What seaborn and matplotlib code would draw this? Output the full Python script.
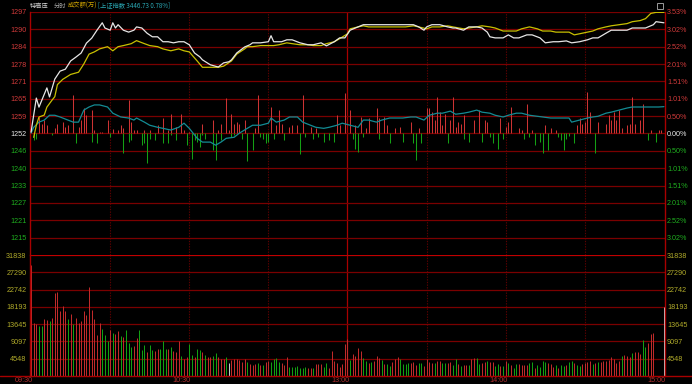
import matplotlib
matplotlib.use("Agg")
import matplotlib.pyplot as plt
from matplotlib.patches import Rectangle
from matplotlib.lines import Line2D
import numpy as np
import pandas as pd
import seaborn as sns

# ---------------- data ----------------
header_name = "特高压"
header_mode = "分时"
header_unit = "成交额(万)"
header_index = "[上证指数 3446.73 0.78%]"

prev_close = 1252.8
pct_limit = 3.53

price_tick_labels = ["1297", "1290", "1284", "1278", "1271", "1265", "1259",
                     "1252", "1246", "1240", "1233", "1227", "1221", "1215"]
pct_tick_values = [3.53, 3.026, 2.52, 2.017, 1.513, 1.009, 0.504,
                   0.0, -0.504, -1.009, -1.513, -2.017, -2.52, -3.026]
pct_tick_labels = ["3.53%", "3.02%", "2.52%", "2.01%", "1.51%", "1.01%", "0.50%",
                   "0.00%", "0.50%", "1.01%", "1.51%", "2.01%", "2.52%", "3.02%"]
vol_tick_values = [31838, 27290, 22742, 18193, 13645, 9097, 4548]
vol_tick_labels = ["31838", "27290", "22742", "18193", "13645", "9097", "4548"]
time_label_minutes = [0, 60, 120, 180, 240]
time_labels = ["09:30", "10:30", "13:00", "14:00", "15:00"]

# white price line (minute index from 09:30, price)
price_min = [0, 2, 3, 6, 7, 9, 11, 13, 15, 17, 19, 21, 23, 25, 27, 28, 30, 31, 32, 33,
             35, 37, 39, 40, 42, 44, 46, 48, 50, 52, 54, 56, 58, 60, 62, 64, 65, 68, 71, 73,
             75, 76, 78, 81, 83, 84, 87, 90, 91, 92, 95, 97, 99, 102, 105, 107, 110, 112, 115, 117,
             119, 121, 123, 126, 130, 135, 140, 145, 147, 149, 150, 152, 155, 158, 160, 161, 164, 166, 169, 171,
             173, 174, 176, 179, 181, 183, 185, 188, 190, 193, 195, 198, 200, 203, 205, 208, 211, 213, 215, 218,
             220, 223, 226, 228, 231, 233, 236, 237, 240]
price_val = [1253.3, 1265.7, 1262.4, 1269.4, 1266.1, 1272.6, 1275.5, 1276.2, 1279.2, 1280.6,
             1282.1, 1285.7, 1287.5, 1290.4, 1293.1, 1291.2, 1290.4, 1293.1, 1291.2, 1292.4,
             1290.4, 1289.7, 1290.4, 1291.6, 1291.2, 1289.3, 1288.0, 1288.0, 1286.2, 1286.2,
             1285.8, 1286.2, 1286.2, 1285.1, 1282.1, 1280.7, 1279.6, 1277.8, 1277.0, 1278.5,
             1278.9, 1279.6, 1282.1, 1284.3, 1285.1, 1285.8, 1285.8, 1286.2, 1288.4, 1286.2,
             1286.2, 1286.9, 1286.9, 1285.8, 1285.1, 1285.1, 1285.8, 1284.7, 1286.2, 1287.6,
             1287.6, 1290.4, 1291.2, 1292.4, 1292.4, 1292.4, 1292.4, 1292.4, 1291.6, 1290.4,
             1291.6, 1292.4, 1292.4, 1291.6, 1291.2, 1291.2, 1290.4, 1291.6, 1291.6, 1291.2,
             1289.7, 1288.0, 1287.6, 1287.6, 1288.7, 1287.6, 1287.6, 1288.7, 1288.7, 1287.6,
             1285.8, 1286.2, 1286.2, 1286.5, 1285.8, 1286.2, 1286.9, 1287.6, 1287.6, 1289.3,
             1290.4, 1290.4, 1290.4, 1291.2, 1291.2, 1291.2, 1292.4, 1293.5, 1293.1]

# yellow average line
avg_min = [1, 2, 3, 5, 6, 8, 9, 10, 12, 15, 18, 20, 22, 24, 26, 29, 31, 33, 35, 38,
           40, 43, 45, 48, 50, 53, 56, 58, 60, 63, 65, 68, 71, 73, 76, 78, 81, 82, 84, 87,
           90, 92, 94, 97, 99, 102, 105, 107, 110, 112, 115, 117, 120, 121, 124, 126, 128, 132, 136, 140,
           142, 145, 147, 150, 152, 155, 158, 160, 164, 166, 169, 171, 174, 176, 179, 181, 184, 186, 189, 192,
           194, 197, 199, 201, 204, 206, 208, 211, 213, 215, 218, 220, 223, 226, 228, 231, 233, 235, 237, 240]
avg_val = [1251.4, 1255.8, 1258.8, 1259.5, 1262.4, 1265.0, 1266.2, 1270.6, 1272.5, 1274.3,
           1275.1, 1278.1, 1281.7, 1282.5, 1283.6, 1284.4, 1282.9, 1284.4, 1284.8, 1285.5,
           1286.6, 1285.5, 1284.8, 1284.4, 1283.6, 1282.9, 1283.6, 1282.9, 1282.5, 1279.2,
           1276.9, 1276.9, 1276.9, 1277.3, 1279.2, 1281.7, 1283.6, 1284.4, 1284.4, 1284.8,
           1284.8, 1284.8, 1285.1, 1285.8, 1285.5, 1285.1, 1285.1, 1284.8, 1284.8, 1285.5,
           1286.2, 1287.3, 1289.1, 1290.9, 1291.6, 1292.0, 1291.6, 1291.6, 1291.6, 1291.6,
           1291.6, 1292.0, 1291.6, 1290.9, 1291.6, 1291.6, 1292.0, 1291.6, 1290.9, 1291.2,
           1291.6, 1292.0, 1291.6, 1291.2, 1290.1, 1290.1, 1290.1, 1290.9, 1291.6, 1290.9,
           1290.1, 1290.1, 1289.7, 1289.7, 1289.7, 1288.7, 1289.1, 1289.7, 1290.1, 1290.9,
           1291.6, 1292.0, 1292.4, 1292.8, 1293.5, 1293.9, 1294.6, 1296.5, 1296.9, 1296.9]

# cyan reference index line (% change of 上证指数)
index_min = [0, 1, 3, 5, 7, 9, 11, 14, 16, 18, 20, 22, 24, 26, 29, 31, 34, 37, 39, 40,
             43, 45, 48, 50, 53, 56, 58, 60, 63, 65, 68, 70, 72, 74, 77, 79, 82, 84, 87, 90,
             91, 93, 96, 98, 101, 103, 106, 108, 111, 113, 116, 118, 121, 124, 126, 128, 131, 133, 136, 139,
             141, 144, 146, 149, 151, 154, 156, 159, 161, 164, 166, 169, 171, 174, 176, 179, 181, 184, 186, 189,
             192, 194, 197, 199, 201, 204, 205, 208, 211, 213, 215, 218, 220, 223, 226, 228, 231, 233, 235, 238, 240]
index_pct = [0.01, 0.18, 0.33, 0.39, 0.53, 0.53, 0.48, 0.39, 0.33, 0.33,
             0.68, 0.77, 0.83, 0.83, 0.77, 0.59, 0.48, 0.45, 0.39, 0.45,
             0.33, 0.24, 0.18, 0.15, 0.10, 0.18, 0.30, 0.15, -0.14, -0.25,
             -0.25, -0.34, -0.25, -0.14, -0.11, 0.01, 0.15, 0.24, 0.24, 0.30,
             0.45, 0.33, 0.39, 0.48, 0.48, 0.33, 0.24, 0.18, 0.15, 0.18,
             0.24, 0.30, 0.24, 0.18, 0.39, 0.39, 0.33, 0.39, 0.45, 0.45,
             0.45, 0.48, 0.48, 0.39, 0.53, 0.59, 0.59, 0.65, 0.56, 0.59,
             0.62, 0.68, 0.62, 0.59, 0.53, 0.48, 0.53, 0.59, 0.59, 0.53,
             0.50, 0.48, 0.45, 0.45, 0.45, 0.45, 0.33, 0.39, 0.45, 0.48,
             0.50, 0.59, 0.62, 0.68, 0.74, 0.77, 0.77, 0.77, 0.77, 0.77, 0.78]

# red / green strength bars in the price panel (% of previous close)
up_min = [3, 4, 5, 6, 9, 10, 12, 13, 14, 16, 18, 19, 20, 21, 23, 24, 26, 27, 29, 31,
          33, 34, 35, 37, 38, 39, 40, 43, 45, 48, 50, 52, 53, 55, 57, 58, 60, 65, 69, 71,
          72, 74, 75, 76, 77, 78, 79, 81, 85, 86, 91, 93, 94, 95, 98, 99, 101, 103, 106, 108,
          116, 117, 119, 121, 123, 125, 127, 128, 131, 132, 134, 135, 138, 140, 144, 147, 150, 151, 152, 153,
          154, 155, 156, 157, 159, 160, 161, 162, 163, 164, 168, 170, 172, 173, 178, 180, 181, 182, 185, 186,
          188, 190, 195, 197, 199, 207, 208, 209, 210, 211, 212, 215, 218, 219, 220, 221, 222, 223, 224, 226,
          227, 228, 229, 231, 232, 235, 238, 239]
up_pct = [0.49, 0.29, 0.39, 0.24, 0.15, 0.29, 0.34, 0.19, 0.24, 1.12, 0.19, 0.39, 0.73, 0.53, 0.68, 0.10, 0.05, 0.05, 0.39, 0.12,
          0.10, 0.24, 0.15, 0.97, 0.34, 0.10, 0.10, 0.10, 0.10, 0.24, 0.44, 0.10, 0.58, 0.19, 0.58, 0.10, 0.05, 0.29, 0.39, 0.10,
          0.29, 1.02, 0.10, 0.58, 0.29, 0.34, 0.29, 0.39, 0.15, 1.12, 0.78, 0.24, 0.68, 0.29, 0.19, 0.24, 0.24, 1.12, 0.19, 0.15,
          0.53, 0.24, 1.17, 0.68, 0.24, 0.49, 0.15, 0.44, 0.73, 0.44, 0.49, 0.24, 0.15, 0.19, 0.34, 0.15, 0.73, 0.73, 0.63, 0.39,
          1.07, 0.63, 0.24, 0.58, 0.39, 1.07, 0.19, 0.34, 0.29, 0.53, 0.39, 0.68, 0.39, 0.34, 0.44, 0.19, 0.34, 0.78, 0.15, 0.10,
          0.86, 0.10, 0.24, 0.15, 0.10, 0.24, 0.44, 0.29, 0.34, 1.21, 0.63, 0.34, 0.29, 0.53, 0.39, 0.63, 0.39, 0.68, 0.15, 0.24,
          0.29, 1.05, 0.29, 0.39, 0.86, 0.10, 0.10, 0.10]
down_min = [1, 2, 8, 17, 23, 25, 30, 35, 37, 38, 42, 43, 44, 45, 47, 50, 52, 53, 55, 59,
            61, 62, 63, 64, 65, 66, 69, 70, 72, 76, 77, 80, 82, 84, 87, 88, 89, 90, 92, 96,
            102, 104, 107, 109, 111, 113, 115, 122, 123, 124, 126, 132, 136, 141, 145, 146, 148, 158, 164, 166,
            171, 174, 175, 177, 179, 187, 189, 191, 193, 194, 196, 200, 201, 202, 203, 204, 206, 214, 234, 237]
down_pct = [-0.19, -0.15, -0.05, -0.27, -0.24, -0.27, -0.10, -0.58, -0.24, -0.19, -0.34, -0.29, -0.87, -0.15, -0.19, -0.29, -0.29, -0.05, -0.19, -0.34,
            -0.73, -0.19, -0.24, -0.39, -0.05, -0.15, -0.49, -0.78, -0.19, -0.10, -0.05, -0.15, -0.80, -0.49, -0.10, -0.15, -0.29, -0.24, -0.15, -0.19,
            -0.60, -0.10, -0.15, -0.10, -0.24, -0.19, -0.24, -0.15, -0.44, -0.53, -0.10, -0.15, -0.29, -0.24, -0.29, -0.78, -0.29, -0.29, -0.15, -0.24,
            -0.24, -0.10, -0.29, -0.44, -0.15, -0.15, -0.10, -0.34, -0.24, -0.56, -0.49, -0.10, -0.19, -0.49, -0.15, -0.08, -0.29, -0.58, -0.19, -0.24]

# per-minute turnover (万) and bar direction (r up, g down, w flat)
volume = [
    29200, 14000, 13700, 13150, 13150, 14900, 14700, 14400, 15200, 21750,
    22200, 17200, 18400, 17100, 14900, 16300, 13700, 15200, 13900, 14400,
    17100, 16000, 23500, 17300, 14900, 10800, 13900, 12300, 10800, 9300,
    12100, 11200, 11000, 11800, 10500, 10200, 12100, 8600, 7700, 7900,
    9900, 12100, 6800, 8100, 6400, 8100, 6800, 6600, 7000, 7000,
    9300, 7000, 7200, 7500, 6500, 6400, 9300, 5300, 4600, 5100,
    8400, 5500, 4900, 7000, 6800, 6400, 5500, 4900, 4900, 5300,
    6100, 5100, 4600, 4600, 5000, 3500, 4200, 4600, 4400, 4210,
    3770, 4470, 3600, 3160, 2890, 3070, 3330, 2890, 2890, 3770,
    3950, 3770, 4390, 4650, 3770, 3330, 2890, 4910, 2460, 2460,
    2460, 2630, 2020, 2190, 2460, 2020, 2190, 2020, 3070, 3070,
    3070, 2460, 3510, 2190, 6580, 3950, 3330, 2460, 3070, 8330,
    9730, 4210, 5700, 5260, 7280, 6580, 4650, 4030, 3510, 3770,
    3950, 5260, 4650, 4210, 3070, 3160, 2630, 3770, 4390, 5090,
    4390, 3070, 3070, 3330, 3510, 3770, 2890, 3330, 3330, 2630,
    4390, 3770, 3330, 3510, 3950, 3950, 3330, 3330, 3510, 3770,
    2890, 4390, 3070, 2720, 2890, 2890, 2890, 4390, 4650, 4650,
    3160, 3330, 3600, 3950, 3600, 3770, 2720, 3070, 2630, 2630,
    3950, 3510, 2890, 2190, 3160, 3160, 2890, 2890, 2890, 3330,
    3600, 2020, 2890, 2460, 3950, 3770, 3510, 3070, 2460, 2890,
    2190, 2890, 2720, 2890, 3770, 3950, 3510, 2890, 2630, 3070,
    3330, 3770, 3950, 3160, 3330, 3770, 3770, 4030, 3950, 4210,
    4910, 4390, 3510, 4030, 5260, 5530, 5260, 4910, 5960, 6400,
    6400, 5790, 9470, 7540, 8590, 10960, 11400, 0, 0, 0,
    18100]
volume_dir = ("rrrggrrgrr" "rrrrgrgrrr" "rrrrrrrggg" "rgrrgrgggr" "rgggrggrrg"
              "ggrgrrrgrr" "ggrggrgrrg" "grrrgwrrrr" "rrgrrrgrgr" "rggggrrrgg"
              "gggggrrgrr" "rggrrrrrrr" "rgrrrrggrg" "rrrgrggrrr" "ggggrrrggr"
              "rrrgrrggrr" "ggrgrrgrrg" "grrgrrggrg" "rgrggrrrrg" "grggggrrrg"
              "rggrggrggr" "rrrgrgrrrr" "rrrrgrrrgr" "rrggrrrrrr" "w")

# ---------------- style ----------------
sns.set_theme(style="dark", rc={"axes.facecolor": "black", "figure.facecolor": "black"})
plt.rcParams["font.family"] = ["Noto Sans CJK SC", "DejaVu Sans"]

RED_TXT = "#d03a3a"
GRN_TXT = "#1fae1f"
WHT_TXT = "#e8e8e8"
OLV_TXT = "#b0aa2a"
GRID = "#7a0000"
FRAME = "#a80000"

W, H = 692, 384
fig = plt.figure(figsize=(W / 100, H / 100), dpi=100, facecolor="black")
x0, x1 = 30, 665
ax_p = fig.add_axes([x0 / W, 1 - 255 / H, (x1 - x0) / W, (255 - 12) / H])
ax_v = fig.add_axes([x0 / W, 1 - 376 / H, (x1 - x0) / W, (376 - 255) / H])

lo = prev_close * (1 - pct_limit / 100)
hi = prev_close * (1 + pct_limit / 100)
xlim = (-0.4, 240.4)

def to_price(p):
    return prev_close * (1 + np.asarray(p) / 100.0)

for ax in (ax_p, ax_v):
    ax.set_facecolor("black")
    ax.set_xlim(*xlim)
    ax.set_xticks([])
    for s in ("top", "bottom"):
        ax.spines[s].set_visible(False)
    for s in ("left", "right"):
        ax.spines[s].set_color(FRAME)
        ax.spines[s].set_linewidth(1.0)
    # time grid
    ax.axvline(120, color=FRAME, lw=0.9, zorder=1)
    for m in (30, 60, 90, 150, 180, 210):
        ax.axvline(m, color="#5c0000", lw=0.8, ls=(0, (1.2, 1.2)), zorder=1)

ax_p.set_ylim(lo, hi)
ax_v.set_ylim(0, 31838)

# horizontal grid
for p in pct_tick_values:
    ax_p.axhline(to_price(p), color=GRID, lw=0.9, zorder=1)
for v in vol_tick_values[1:]:
    ax_v.axhline(v, color=GRID, lw=0.9, zorder=1)
ax_v.axhline(31838, color="#c00000", lw=1.6, zorder=1)
fig.add_artist(Line2D([0, 1], [1 - 376 / H, 1 - 376 / H], color=FRAME, lw=1.0))

# strength bars
ax_p.vlines(up_min, prev_close, to_price(up_pct), colors="#cc3333", lw=0.75, zorder=2)
ax_p.vlines(down_min, prev_close, to_price(down_pct), colors="#14a014", lw=0.75, zorder=2)

# lines
df_idx = pd.DataFrame({"m": index_min, "v": to_price(index_pct)})
df_avg = pd.DataFrame({"m": avg_min, "v": avg_val})
df_prc = pd.DataFrame({"m": price_min, "v": price_val})
sns.lineplot(data=df_idx, x="m", y="v", ax=ax_p, color="#138c94", lw=0.9, zorder=3)
sns.lineplot(data=df_avg, x="m", y="v", ax=ax_p, color="#c8c000", lw=0.9, zorder=4)
sns.lineplot(data=df_prc, x="m", y="v", ax=ax_p, color="#e6e6e6", lw=0.9, zorder=5)
ax_p.set_xlabel("")
ax_p.set_ylabel("")
ax_p.set_xlim(*xlim)
ax_p.set_ylim(lo, hi)

# volume bars
cmap = {"r": "#c02a2a", "g": "#12a012", "w": "#c8c8c8"}
vx = np.arange(len(volume))
ax_v.vlines(vx, 0, volume, colors=[cmap[c] for c in volume_dir], lw=0.72, zorder=2)

# tick labels
tick_font = dict(family="Liberation Sans", size=5.2)
label_colors = [RED_TXT] * 7 + [WHT_TXT] + [GRN_TXT] * 6
ax_p.set_yticks(to_price(pct_tick_values))
ax_p.set_yticklabels(price_tick_labels, fontdict=tick_font)
ax_p.tick_params(axis="y", length=0, pad=2.5)
for t, c in zip(ax_p.get_yticklabels(), label_colors):
    t.set_color(c)
axr = ax_p.twinx()
axr.set_ylim(lo, hi)
axr.set_yticks(to_price(pct_tick_values))
axr.set_yticklabels(pct_tick_labels, fontdict=tick_font)
axr.tick_params(axis="y", length=0, pad=1.5)
for t, c in zip(axr.get_yticklabels(), label_colors):
    t.set_color(c)
for s in axr.spines.values():
    s.set_visible(False)
axr.grid(False)

ax_v.set_yticks(vol_tick_values)
ax_v.set_yticklabels(vol_tick_labels, fontdict=tick_font, color=OLV_TXT)
ax_v.tick_params(axis="y", length=0, pad=2.5)
axvr = ax_v.twinx()
axvr.set_ylim(0, 31838)
axvr.set_yticks(vol_tick_values)
axvr.set_yticklabels(vol_tick_labels, fontdict=tick_font, color=OLV_TXT)
axvr.tick_params(axis="y", length=0, pad=1.5)
for s in axvr.spines.values():
    s.set_visible(False)
axvr.grid(False)
for ax in (ax_p, ax_v):
    ax.grid(False)

# time labels
for m, lab in zip(time_label_minutes, time_labels):
    ax_v.text(m + 0.6, -0.035, lab, transform=ax_v.get_xaxis_transform(),
              ha="right", va="center", color="#b03030",
              fontdict=dict(family="Liberation Sans", size=5.2), clip_on=False)

# header
hy = 1 - 5.5 / H
hfont = dict(size=4.5, family=["Noto Sans CJK SC", "DejaVu Sans"])
fig.text(30 / W, hy, header_name, color="#cfcfcf", ha="left", va="center", fontdict=hfont)
fig.text(54 / W, hy, header_mode, color="#a8a8a8", ha="left", va="center", fontdict=hfont)
fig.text(68 / W, hy, header_unit, color="#d0a400", ha="left", va="center", fontdict=hfont)
fig.text(98 / W, hy, header_index, color="#2aa8b4", ha="left", va="center", fontdict=hfont)

# small window icon top-right
fig.add_artist(Rectangle((657 / W, 1 - 9 / H), 6 / W, 6 / H, transform=fig.transFigure,
                         fill=False, edgecolor="#9a9a9a", lw=0.7))

fig.savefig("out.png", dpi=100, facecolor="black")
